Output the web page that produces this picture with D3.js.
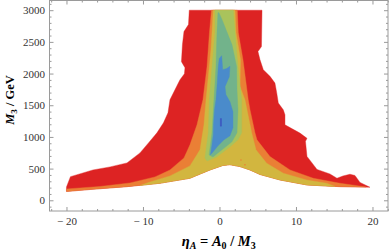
<!DOCTYPE html>
<html>
<head>
<meta charset="utf-8">
<script src="https://cdn.jsdelivr.net/npm/d3@7"></script>
<style>
  body { margin: 0; background: #fff; }
  svg text { font-family: "Liberation Serif", "Times New Roman", serif; }
</style>
</head>
<body>
<div id="chart"></div>
<script>
// contour levels, outermost first, each one a polygon of [eta_A, M3]
var levelNames = ["red", "orange", "yellow", "yellowgreen", "teal", "blue", "darkblue"];
var levelColors = ["#dd2323", "#ea7f35", "#d2b63f", "#a9c35c", "#72b38b", "#4a8bcb", "#3d50c0"];

var bottomEdge = [[-16.54,174],[-12.09,215],[-7.78,269],[-3.86,348],[-1.24,479],[0.46,551],
  [1.37,562],[2.68,532],[3.99,479],[5.29,408],[7.91,321],[11.44,242],[15.75,215]];

var redLevel = [[-3.95,3000],[-4.05,2774],[-4.64,2663],[-4.84,2457],[-4.97,2188],[-4.51,2093],
  [-4.58,1997],[-5.16,1903],[-5.62,1793],[-6.47,1587],[-6.73,1381],[-7.32,1223],[-8.17,1065],
  [-9.28,906],[-10.39,748],[-12.09,590],[-14.31,527],[-16.54,479],[-19.48,373],[-20,210],[-20,139]]
  .concat(bottomEdge)
  .concat([[19.67,206],[18.37,282],[17.71,392],[17.06,411],[16.14,384],[15.36,348],[14.44,416],
  [12.75,487],[11.44,693],[11.24,930],[11.44,978],[10.52,1060],[8.56,1191],[8.56,1350],[8.34,1429],
  [7.69,1535],[7.48,1698],[7.25,1851],[6.60,1956],[5.73,2062],[5.29,2220],[5.03,2347],[5.49,2426],
  [5.56,3000]]);

var orangeLevel = [[-1.05,3000],[-1.31,2647],[-1.63,2109],[-2.16,1587],[-2.94,1191],[-3.86,875],
  [-4.64,669],[-6.47,479],[-8.43,369],[-11.70,274],[-15.62,218],[-20,179],[-20,139]]
  .concat(bottomEdge)
  .concat([[19.15,210],[15.75,269],[12.26,348],[9.22,479],[6.60,690],[4.90,954],[4.64,1065],
  [3.99,1429],[3.76,1587],[3.07,2220],[2.46,2647],[2.33,3000]]);

var yellowLevel = [[-0.81,3000],[-1.11,2378],[-1.76,1587],[-2.03,1191],[-2.55,796],[-3.86,543],
  [-6.47,384],[-9.08,290],[-10.39,232],[-7.78,269],[-3.86,348],[-1.24,479],[0.46,551],[1.37,562],
  [2.68,532],[3.99,479],[5.29,408],[7.91,321],[11.44,242],[15.1,218],[14.01,269],[11.40,321],
  [8.34,427],[6.17,585],[4.77,796],[4.21,1065],[3.33,1587],[2.68,1797],[2.75,2220],[2.16,2647],
  [2.03,3000]];

var yellowgreenLevel = [[-0.59,3000],[-0.59,2647],[-0.98,2109],[-1.33,1587],[-1.46,1065],
  [-1.76,796],[-1.90,669],[-1.63,620],[-0.37,685],[1.37,843],[2.42,954],[2.90,1065],[2.90,1587],
  [2.42,2109],[2.03,2647],[1.80,3000]];

var tealLevel = [[-0.20,2960],[-0.33,2647],[-0.46,2109],[-0.72,1587],[-0.98,1065],[-1.24,827],
  [-1.37,716],[-0.85,685],[0.33,796],[1.63,922],[2.29,1065],[2.42,1429],[2.29,1745],[2.25,2109],
  [1.63,2457],[0.85,2694],[0.33,2853],[-0.07,2960]];

var blueLevel = [[-0.03,2236],[-0.16,2109],[-0.29,1856],[-0.46,1587],[-0.65,1429],[-0.78,1191],
  [-0.81,1033],[-0.98,875],[-1.18,717],[-0.85,764],[-0.20,859],[0.59,954],[1.37,1017],[1.76,1144],
  [1.76,1397],[1.37,1555],[0.85,1666],[0.72,1793],[1.28,1951],[1.37,2117],[0.94,2078],[0.42,2062],
  [0.29,2283]];

var darkblueLevel = [[0.12,1290],[0.26,1290],[0.26,1170],[0.12,1170]];

var levels = [redLevel, orangeLevel, yellowLevel, yellowgreenLevel, tealLevel, blueLevel, darkblueLevel];

// a few stray orange points inside the yellow
var specks = [[2.81,637],[3.33,559]];

var xMajor = [-20, -10, 0, 10, 20];
var yMajor = [0, 500, 1000, 1500, 2000, 2500, 3000];

const width = 390, height = 250;
const margin = {top: 0.5, right: 2, bottom: 39, left: 49.5};

var xScale = d3.scaleLinear().domain([-22.22, 22.03]).range([margin.left, width - margin.right]);
var yScale = d3.scaleLinear().domain([-169, 3153]).range([height - margin.bottom, margin.top]);

var xMinor = d3.range(-22, 23, 2).filter(d => xMajor.indexOf(d) < 0);
var yMinor = d3.range(-100, 3101, 100).filter(d => yMajor.indexOf(d) < 0);

var svg = d3.select("#chart").append("svg")
    .attr("width", width)
    .attr("height", height);

var line = d3.line()
    .x(d => xScale(d[0]))
    .y(d => yScale(d[1]));

svg.append("g").attr("class", "contours")
    .selectAll("path")
    .data(levels)
    .enter()
    .append("path")
    .attr("d", d => line(d) + "Z")
    .attr("fill", (d, i) => levelColors[i])
    .attr("stroke", (d, i) => levelColors[i])
    .attr("stroke-width", 0.4);

svg.append("g")
    .selectAll("circle")
    .data(specks)
    .enter()
    .append("circle")
    .attr("cx", d => xScale(d[0]))
    .attr("cy", d => yScale(d[1]))
    .attr("r", 0.8)
    .attr("fill", levelColors[1]);

var fmt = d => d < 0 ? "\u2212 " + Math.abs(d) : String(d);
var frameColor = "#9a9a9a";
var innerH = yScale.range()[0];
var innerR = xScale.range()[1];

function styleAxis(g) {
    g.select(".domain").remove();
    g.selectAll("line").attr("stroke", frameColor);
    g.selectAll("text").attr("fill", "#333").style("font-size", "11px");
}

// bottom
svg.append("g").attr("transform", "translate(0," + innerH + ")")
    .call(d3.axisBottom(xScale).tickValues(xMajor).tickFormat(fmt).tickSize(-4).tickPadding(6))
    .call(styleAxis);
svg.append("g").attr("transform", "translate(0," + innerH + ")")
    .call(d3.axisBottom(xScale).tickValues(xMinor).tickFormat("").tickSize(-2))
    .call(styleAxis);
// top
svg.append("g").attr("transform", "translate(0," + margin.top + ")")
    .call(d3.axisTop(xScale).tickValues(xMajor).tickFormat("").tickSize(-4))
    .call(styleAxis);
svg.append("g").attr("transform", "translate(0," + margin.top + ")")
    .call(d3.axisTop(xScale).tickValues(xMinor).tickFormat("").tickSize(-2))
    .call(styleAxis);
// left
svg.append("g").attr("transform", "translate(" + margin.left + ",0)")
    .call(d3.axisLeft(yScale).tickValues(yMajor).tickFormat(fmt).tickSize(-4).tickPadding(4.5))
    .call(styleAxis);
svg.append("g").attr("transform", "translate(" + margin.left + ",0)")
    .call(d3.axisLeft(yScale).tickValues(yMinor).tickFormat("").tickSize(-2))
    .call(styleAxis);
// right
svg.append("g").attr("transform", "translate(" + innerR + ",0)")
    .call(d3.axisRight(yScale).tickValues(yMajor).tickFormat("").tickSize(-4))
    .call(styleAxis);
svg.append("g").attr("transform", "translate(" + innerR + ",0)")
    .call(d3.axisRight(yScale).tickValues(yMinor).tickFormat("").tickSize(-2))
    .call(styleAxis);

svg.append("rect")
    .attr("x", margin.left)
    .attr("y", margin.top)
    .attr("width", innerR - margin.left)
    .attr("height", innerH - margin.top)
    .attr("fill", "none")
    .attr("stroke", frameColor);

// axis titles
var xTitle = svg.append("text")
    .attr("x", (margin.left + innerR) / 2)
    .attr("y", 246)
    .attr("text-anchor", "middle")
    .style("font-size", "14.5px")
    .style("font-weight", "bold");
xTitle.append("tspan").style("font-style", "italic").text("\u03b7");
xTitle.append("tspan").style("font-style", "italic").style("font-size", "10px").attr("dy", 2.5).text("A");
xTitle.append("tspan").attr("dy", -2.5).text(" = ");
xTitle.append("tspan").style("font-style", "italic").text("A");
xTitle.append("tspan").style("font-size", "10px").attr("dy", 2.5).text("0");
xTitle.append("tspan").attr("dy", -2.5).text(" / ");
xTitle.append("tspan").style("font-style", "italic").text("M");
xTitle.append("tspan").style("font-size", "10px").attr("dy", 2.5).text("3");

var yTitle = svg.append("text")
    .attr("transform", "translate(14,100) rotate(-90)")
    .attr("text-anchor", "middle")
    .style("font-size", "12.5px")
    .style("font-weight", "bold");
yTitle.append("tspan").style("font-style", "italic").text("M");
yTitle.append("tspan").style("font-size", "9px").attr("dy", 2.5).text("3");
yTitle.append("tspan").attr("dy", -2.5).text(" / GeV");
</script>
</body>
</html>
